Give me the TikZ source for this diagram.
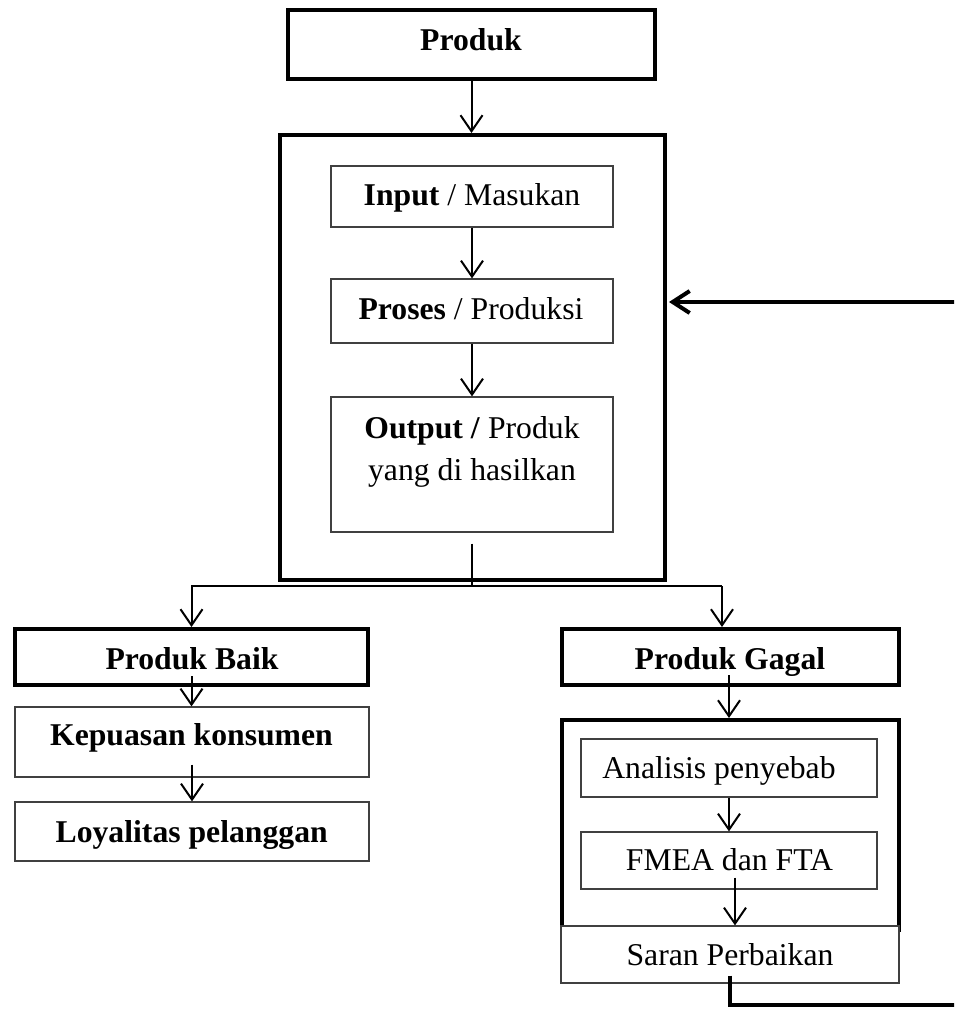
\documentclass[tikz,border=0pt]{standalone}
\usepackage{fontspec}
\setmainfont{Liberation Serif}
\usetikzlibrary{arrows.meta}
\begin{document}
\begin{tikzpicture}[x=1pt,y=-1pt,
  thickbox/.style={draw=black, line width=4pt, inner sep=0pt},
  thinbox/.style={draw=black!75, line width=1.2pt, inner sep=0pt},
  lbl/.style={anchor=base, inner sep=0pt, font=\fontsize{31.7}{40}\selectfont},
  arr/.style={line width=2pt, -{Straight Barb[length=16pt,width=22pt]}},
  plainline/.style={line width=2pt},
  fb/.style={line width=4pt, -{Straight Barb[length=17pt,width=22pt]}}]
\useasboundingbox (0,0) rectangle (954,1009);
\clip (0,0) rectangle (954,1009);
% boxes
\node[thickbox, minimum width=367pt, minimum height=69pt] (produk) at (471.5,44.5) {};
\node[thickbox, minimum width=385pt, minimum height=445pt] (mainbox) at (472.5,357.5) {};
\node[thinbox, minimum width=282pt, minimum height=61pt] (input) at (472,196.5) {};
\node[thinbox, minimum width=282pt, minimum height=64pt] (proses) at (472,311) {};
\node[thinbox, minimum width=282pt, minimum height=135pt] (output) at (472,464.5) {};
\node[thickbox, minimum width=353pt, minimum height=56pt] (pb) at (191.5,657) {};
\node[thinbox, minimum width=354pt, minimum height=70pt] (kep) at (192,742) {};
\node[thinbox, minimum width=354pt, minimum height=59pt] (loy) at (192,831.5) {};
\node[thickbox, minimum width=337pt, minimum height=56pt] (pg) at (730.5,657) {};
\node[thickbox, minimum width=337pt, minimum height=210pt] (big) at (730.5,825) {};
\node[thinbox, minimum width=296pt, minimum height=58pt] (ana) at (729,768) {};
\node[thinbox, minimum width=296pt, minimum height=57pt] (fmea) at (729,860.5) {};
\node[thinbox, fill=white, minimum width=338pt, minimum height=57pt] (saran) at (730,954.5) {};
% texts
\node[lbl] (tproduk) at (471,50) {\bfseries Produk};
\node[lbl] (tinput) at (472,205) {\textbf{Input} / Masukan};
\node[lbl] (tproses) at (471,319) {\textbf{Proses} / Produksi};
\node[lbl] (tout1) at (472,438) {\textbf{Output /} Produk};
\node[lbl] (tout2) at (472,480) {yang di hasilkan};
\node[lbl] (tpb) at (192,669) {\bfseries Produk Baik};
\node[lbl] (tkep) at (191.5,745) {\bfseries Kepuasan konsumen};
\node[lbl] (tloy) at (191.7,842) {\bfseries Loyalitas pelanggan};
\node[lbl] (tpg) at (730,669) {\bfseries Produk Gagal};
\node[lbl] (tana) at (719,778) {Analisis penyebab};
\node[lbl] (tfmea) at (729.5,870) {FMEA dan FTA};
\node[lbl] (tsaran) at (730,965) {Saran Perbaikan};
% connectors
\coordinate (split) at (471,586);
\coordinate (fbcorner) at (958,1005);
\coordinate (fbin) at (669,302);
\draw[arr] (produk.south) -- (produk.south |- mainbox.north);
\draw[arr] (input.south) -- (input.south |- proses.north);
\draw[arr] (proses.south) -- (proses.south |- output.north);
\draw[plainline] ([yshift=-11pt]output.south) -- (output.south |- split);
\draw[plainline] (split) -- ++(251,0);
\draw[arr] (split) -| (pb.north);
\draw[arr] ([xshift=251pt]split) -- ([xshift=-8.5pt]pg.north);
\draw[arr] ([yshift=11pt]pb.south) -- (pb.south |- kep.north);
\draw[arr] ([yshift=13pt]kep.south) -- (kep.south |- loy.north);
\draw[arr] ([xshift=-1.5pt,yshift=12pt]pg.south) -- ([xshift=-1.5pt]pg.south |- big.north);
\draw[arr] (ana.south) -- (ana.south |- fmea.north);
\draw[arr] ([xshift=6pt,yshift=12pt]fmea.south) -- ([xshift=6pt]fmea.south |- saran.north);
\draw[fb] ([yshift=8pt]saran.south) |- (fbcorner) |- (fbin);
\end{tikzpicture}
\end{document}
